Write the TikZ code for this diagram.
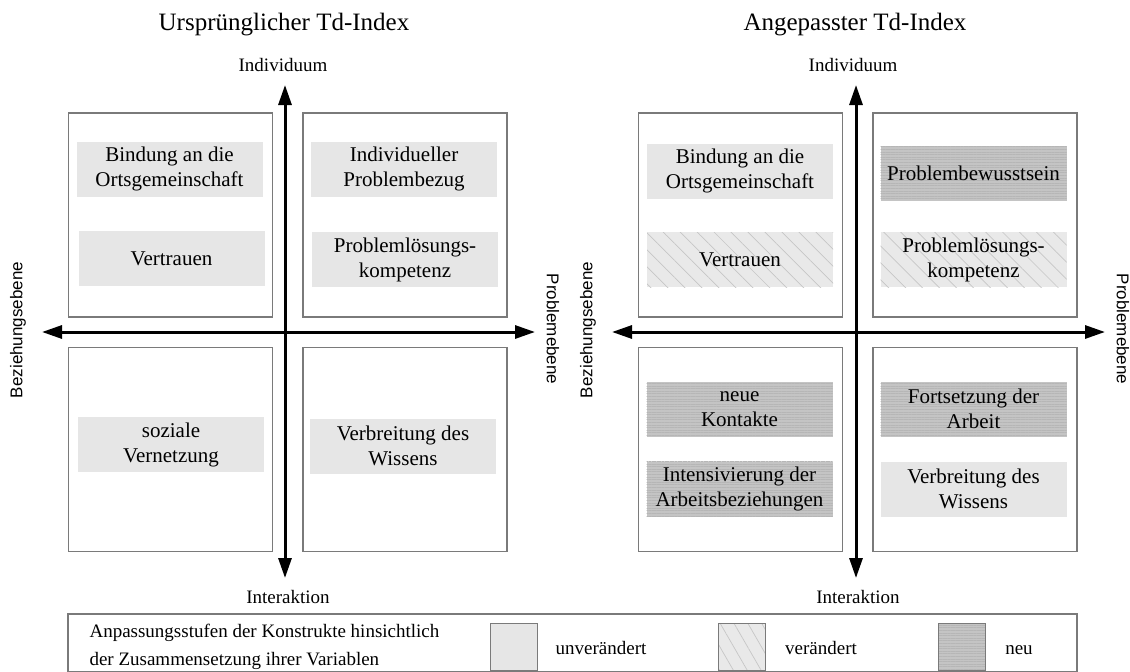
\documentclass[tikz,border=0pt]{standalone}
\usepackage{fontspec}
\setmainfont{Liberation Serif}
\newfontfamily\sidefont{Liberation Sans}
\usetikzlibrary{arrows.meta,patterns.meta}

\definecolor{unv}{HTML}{E6E6E6}
\definecolor{chgfill}{HTML}{E9E9E9}
\definecolor{hatchc}{HTML}{C6C6C6}
\definecolor{neufill}{HTML}{C4C4C4}
\definecolor{neuline}{HTML}{B6B6B6}
\definecolor{frame}{HTML}{7A7A7A}

\tikzset{
  x=1pt, y=-1pt,
  quad/.style={draw=frame, line width=1.4pt, minimum width=204pt, minimum height=204pt, inner sep=0pt},
  lbl/.style={font=\fontsize{21}{25}\selectfont, align=center, minimum width=186pt, minimum height=55pt, inner sep=0pt},
  same/.style={lbl, fill=unv},
  changed/.style={lbl, preaction={fill=chgfill}, pattern={Lines[angle=-45,distance=12pt,line width=0.7pt]}, pattern color=hatchc},
  fresh/.style={lbl, preaction={fill=neufill}, pattern={Lines[angle=0,distance=2.6pt,line width=0.6pt]}, pattern color=neuline},
  axis/.style={line width=3pt, {Triangle[length=20pt,width=13pt]}-{Triangle[length=20pt,width=13pt]}},
  title/.style={font=\fontsize{25}{30}\selectfont},
  pole/.style={font=\fontsize{19}{23}\selectfont},
  side/.style={font=\sidefont\fontsize{17}{20}\selectfont},
  swatch/.style={draw=frame, line width=1pt, minimum width=47pt, minimum height=47pt, inner sep=0pt},
  legtext/.style={font=\fontsize{19}{28}\selectfont},
  legkey/.style={legtext, anchor=base}
}

\begin{document}
\begin{tikzpicture}
\useasboundingbox (0,0) rectangle (1130,672);

% ---------- left panel ----------
\node[title] (t1) at (284,25) {Ursprünglicher Td-Index};
\node[pole] (ind1) at (283,65) {Individuum};
\node[pole] (int1) at (288,597) {Interaktion};
\node[side, rotate=90] (bez1) at (18,330) {Beziehungsebene};
\node[side, rotate=-90] (prob1) at (553,329) {Problemebene};

\node[quad] (q1a) at (170.5,215) {};
\node[quad] (q1b) at (405,215) {};
\node[quad] (q1c) at (170.5,449.5) {};
\node[quad] (q1d) at (405,449.5) {};

\coordinate (v1top) at (285,85);
\coordinate (v1bot) at (285,578);
\coordinate (h1left) at (42,332);
\coordinate (h1right) at (535,332);
\draw[axis] (v1top) -- (v1bot);
\draw[axis] (h1left) -- (h1right);

\node[same] (a1) at (169.5,169) {Bindung an die\\Ortsgemeinschaft};
\node[same] (a2) at (171.5,258.5) {Vertrauen};
\node[same] (b1) at (404,169) {Individueller\\Problembezug};
\node[same] (b2) at (405,259.5) {Problemlösungs-\\kompetenz};
\node[same] (c1) at (171,444.5) {soziale\\Vernetzung};
\node[same] (d1) at (403,446) {Verbreitung des\\Wissens};

% ---------- right panel ----------
\node[title] (t2) at (855,25) {Angepasster Td-Index};
\node[pole] (ind2) at (853,65) {Individuum};
\node[pole] (int2) at (858,597) {Interaktion};
\node[side, rotate=90] (bez2) at (588,330) {Beziehungsebene};
\node[side, rotate=-90] (prob2) at (1123,329) {Problemebene};

\node[quad] (q2a) at (740.5,215) {};
\node[quad] (q2b) at (975,215) {};
\node[quad] (q2c) at (740.5,449.5) {};
\node[quad] (q2d) at (975,449.5) {};

\coordinate (v2top) at (856,85);
\coordinate (v2bot) at (856,578);
\coordinate (h2left) at (612,332);
\coordinate (h2right) at (1105,332);
\draw[axis] (v2top) -- (v2bot);
\draw[axis] (h2left) -- (h2right);

\node[same] (e1) at (740,171) {Bindung an die\\Ortsgemeinschaft};
\node[changed] (e2) at (740,259.5) {Vertrauen};
\node[fresh] (f1) at (973.5,173) {Problembewusstsein};
\node[changed] (f2) at (973.5,259.5) {Problemlösungs-\\kompetenz};
\node[fresh] (g1) at (739.5,409) {neue\\Kontakte};
\node[fresh] (g2) at (739.5,489) {Intensivierung der\\Arbeitsbeziehungen};
\node[fresh] (h1) at (973.5,409) {Fortsetzung der\\Arbeit};
\node[same] (h2) at (973.5,489) {Verbreitung des\\Wissens};

% ---------- legend ----------
\node[draw=frame, line width=1.4pt, minimum width=1009pt, minimum height=58pt, inner sep=0pt] (leg) at (572.5,643) {};
\node[legtext, anchor=west, align=left] (legtxt) at (86,647) {Anpassungsstufen der Konstrukte hinsichtlich\\der Zusammensetzung ihrer Variablen};
\node[swatch, fill=unv] (s1) at (513.5,646.5) {};
\node[legkey] (s1t) at (601,654) {unverändert};
\node[swatch, preaction={fill=chgfill}, pattern={Lines[angle=-60,distance=12pt,line width=0.7pt]}, pattern color=hatchc] (s2) at (741.5,646.5) {};
\node[legkey] (s2t) at (821,654) {verändert};
\node[swatch, preaction={fill=neufill}, pattern={Lines[angle=0,distance=2.6pt,line width=0.6pt]}, pattern color=neuline] (s3) at (962,646.5) {};
\node[legkey] (s3t) at (1019,654) {neu};
\end{tikzpicture}
\end{document}
